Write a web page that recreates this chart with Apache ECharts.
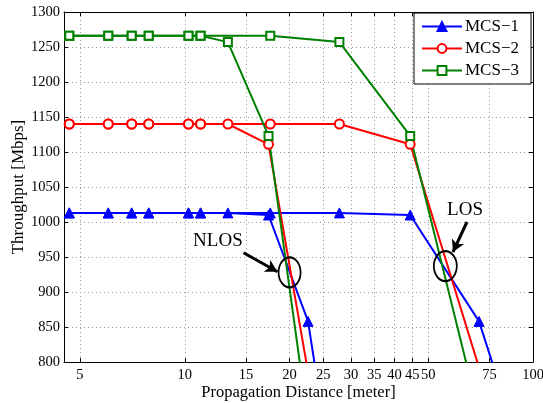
<!DOCTYPE html>
<html><head><meta charset="utf-8">
<script src="https://cdn.jsdelivr.net/npm/echarts@6/dist/echarts.min.js"></script>
<style>html,body{margin:0;padding:0;background:#fff}#c{width:543px;height:403px}</style>
</head><body><div id="c"></div>
<script>
// ---- data ----
const xTicks = [5,10,15,20,25,30,35,40,45,50,75,100];
const seriesNames = ['MCS\u22121','MCS\u22122','MCS\u22123'];
// NLOS curves
const mcs1NlosX = [4.66,6.03,7.04,7.88,10.25,11.1,13.3,17.4,22.6,25.3];
const mcs1NlosY = [1013,1013,1013,1013,1013,1013,1013,1010,858,700];
const mcs2NlosX = [4.66,6.03,7.04,7.88,10.25,11.1,13.3,17.4,24.2];
const mcs2NlosY = [1140,1140,1140,1140,1140,1140,1140,1111,700];
const mcs3NlosX = [4.66,6.03,7.04,7.88,10.25,11.1,13.3,17.4,22.8];
const mcs3NlosY = [1266,1266,1266,1266,1266,1266,1257,1123,700];
// LOS curves
const mcs1LosX = [4.66,6.03,7.04,7.88,10.25,11.1,17.6,27.8,44.4,70.0,88.5];
const mcs1LosY = [1013,1013,1013,1013,1013,1013,1013,1013,1010,858,700];
const mcs2LosX = [4.66,6.03,7.04,7.88,10.25,11.1,17.6,27.8,44.4,79.8];
const mcs2LosY = [1140,1140,1140,1140,1140,1140,1140,1140,1111,700];
const mcs3LosX = [4.66,6.03,7.04,7.88,10.25,11.1,17.6,27.8,44.4,72.0];
const mcs3LosY = [1266,1266,1266,1266,1266,1266,1266,1257,1123,700];
// annotations (data coords)
const nlosLabel = {text:'NLOS', x:12.45, y:973};
const nlosArrow = [[14.75,956],[18.46,929]];
const nlosEllipse = [20.0,928];
const losLabel = {text:'LOS', x:63.8, y:1017};
const losArrow = [[64.6,1000],[58.9,957]];
const losEllipse = [56.0,937];

const zip = (xs, ys) => xs.map((x,i)=>[x, ys[i]]);
const FONT = 'Liberation Serif';
const colors = ['#0000ff','#ff0000','#008000'];
const symbols = ['triangle','emptyCircle','emptyRect'];
const symSizes = [10,9,8];

function mkSeries(idx, data){
  return {
    name: seriesNames[idx], type:'line', data: data,
    symbol: symbols[idx], symbolSize: symSizes[idx],
    showAllSymbol: true,
    lineStyle:{color:colors[idx], width:2},
    itemStyle:{color:colors[idx], borderColor:colors[idx], borderWidth: idx===0?1:1.8},
    clip:true, animation:false, z: 3
  };
}
const ellipsePath = 'path://M0,10 A10,10 0 1,1 20,10 A10,10 0 1,1 0,10 Z';
const textMark = (o) => ({
  coord:[o.x, o.y], symbol:'rect', symbolSize:1,
  itemStyle:{color:'rgba(0,0,0,0)', borderWidth:0},
  label:{show:true, position:'inside', formatter:o.text, fontFamily:FONT, fontSize:19, color:'#000'}
});

const chart = echarts.init(document.getElementById('c'), null, {renderer:'canvas'});
const axisCommon = {
  type:'log', logBase:10, min:4.5, max:100,
  axisLine:{show:true, onZero:false, lineStyle:{color:'#000', width:1}},
};
chart.setOption({
  animation:false,
  textStyle:{fontFamily:FONT},
  grid:{left:64, right:10, top:12, bottom:41, containLabel:false, outerBoundsMode:'none'},
  legend:{
    data: seriesNames, orient:'vertical', right:12, top:13,
    backgroundColor:'#fff', borderColor:'#000', borderWidth:1,
    padding:[5,12,5,7], itemGap:5, itemWidth:40, itemHeight:11,
    textStyle:{fontFamily:FONT, fontSize:17, color:'#000', padding:[0,0,0,-2]}
  },
  xAxis:[
    Object.assign({}, axisCommon, {
      position:'bottom',
      name:'Propagation Distance [meter]', nameLocation:'middle', nameGap:22,
      nameMoveOverlap:false,
      nameTextStyle:{fontFamily:FONT, fontSize:16.5, color:'#000'},
      axisTick:{show:true, inside:true, length:4, customValues: xTicks, lineStyle:{color:'#000'}},
      axisLabel:{show:true, customValues: xTicks, hideOverlap:false, interval:0,
        showMinLabel:true, showMaxLabel:true,
        fontFamily:FONT, fontSize:14.5, color:'#000', margin:6,
        formatter:(v)=>String(Math.round(v))},
      minorTick:{show:false},
      splitLine:{show:true, lineStyle:{color:'#999', type:[1,3], width:1}}
    }),
    Object.assign({}, axisCommon, {
      position:'top',
      axisTick:{show:true, inside:true, length:4, customValues: xTicks, lineStyle:{color:'#000'}},
      axisLabel:{show:false},
      splitLine:{show:false}
    })
  ],
  yAxis:[
    {
      type:'value', min:800, max:1300, interval:50, position:'left',
      name:'Throughput [Mbps]', nameLocation:'middle', nameGap:37, nameRotate:90,
      nameMoveOverlap:false,
      nameTextStyle:{fontFamily:FONT, fontSize:17, color:'#000'},
      axisLine:{show:true, lineStyle:{color:'#000'}},
      axisTick:{show:true, inside:true, length:4, lineStyle:{color:'#000'}},
      axisLabel:{fontFamily:FONT, fontSize:14.5, color:'#000', margin:4, formatter:(v)=>String(v)},
      splitLine:{show:true, lineStyle:{color:'#999', type:[1,3], width:1}}
    },
    {
      type:'value', min:800, max:1300, interval:50, position:'right',
      axisLine:{show:true, lineStyle:{color:'#000'}},
      axisTick:{show:true, inside:true, length:4, lineStyle:{color:'#000'}},
      axisLabel:{show:false}, splitLine:{show:false}
    }
  ],
  series:[
    mkSeries(0, zip(mcs1NlosX, mcs1NlosY)),
    mkSeries(0, zip(mcs1LosX, mcs1LosY)),
    mkSeries(1, zip(mcs2NlosX, mcs2NlosY)),
    mkSeries(1, zip(mcs2LosX, mcs2LosY)),
    mkSeries(2, zip(mcs3NlosX, mcs3NlosY)),
    mkSeries(2, zip(mcs3LosX, mcs3LosY)),
    {
      name:'annot', type:'line', data:[], z:5, silent:true,
      markPoint:{
        silent:true, animation:false,
        data:[
          textMark(nlosLabel),
          textMark(losLabel),
          {coord:nlosEllipse, symbol:ellipsePath, symbolSize:[22,30], symbolKeepAspect:false, itemStyle:{color:'rgba(0,0,0,0)', borderColor:'#000', borderWidth:2}, label:{show:false}},
          {coord:losEllipse, symbol:ellipsePath, symbolSize:[23,30], symbolKeepAspect:false, itemStyle:{color:'rgba(0,0,0,0)', borderColor:'#000', borderWidth:2}, label:{show:false}}
        ]
      },
      markLine:{
        silent:true, animation:false, symbol:['none','arrow'], symbolSize:[10,12],
        label:{show:false},
        lineStyle:{color:'#000', width:3, type:'solid'},
        data:[
          [{coord:nlosArrow[0]},{coord:nlosArrow[1]}],
          [{coord:losArrow[0]},{coord:losArrow[1]}]
        ]
      }
    }
  ]
});
</script></body></html>
